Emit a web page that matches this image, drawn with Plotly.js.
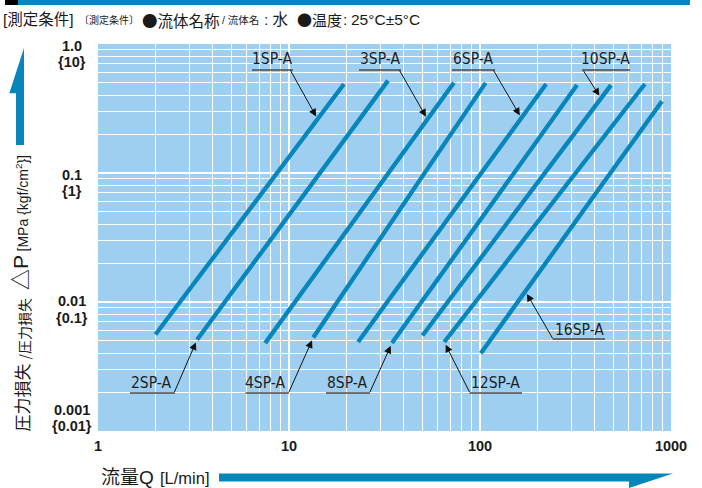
<!DOCTYPE html>
<html><head><meta charset="utf-8">
<script src="https://cdn.plot.ly/plotly-3.0.1.min.js"></script>
<style>html,body{margin:0;padding:0;background:#fff}</style>
</head><body><div id="chart" style="width:702px;height:488px"></div>
<script>
// ---- data ----
const seriesNames = ['1SP-A','2SP-A','3SP-A','4SP-A','6SP-A','8SP-A','10SP-A','12SP-A','16SP-A'];
const flowMin = [2.0, 3.3, 7.5, 13.4, 23, 34.6, 50, 65, 101];      // L/min
const flowMax = [19.4, 33, 73, 107, 222, 322, 485, 730, 897];      // L/min
const dpAtMin = [0.0056, 0.0051, 0.0048, 0.0053, 0.0049, 0.0048, 0.0055, 0.0049, 0.0040]; // MPa
const dpAtMax = [0.49, 0.52, 0.50, 0.50, 0.49, 0.48, 0.48, 0.49, 0.36]; // MPa
const xTickVals = [1, 10, 100, 1000];
const xTickText = ['1', '10', '100', '1000'];
const yTickVals = [1, 0.1, 0.01, 0.001];
const yTickMain = ['1.0', '0.1', '0.01', '0.001'];
const yTickSub = ['{10}', '{1}', '{0.1}', '{0.01}'];

// ---- layout helpers ----
const L = 98, T = 44, W = 573, H = 387;
const px = x => (x - L) / W;
const py = y => (T + H - y) / H;
const lx = x => (x - L) / W * 3;
const ly = y => -3 + (T + H - y) / H * 3;
const BLUE = '#0786bb';
const COND = "'DejaVu Sans Condensed', 'Liberation Sans', sans-serif";
const SANS = "'Liberation Sans', Arial, sans-serif";
const CJK = "'Liberation Sans', 'Noto Sans CJK JP', sans-serif";
const JP = "'Noto Sans CJK JP', sans-serif";

const minorVals = [];
[1, 10, 100].forEach(d => { for (let k = 2; k <= 9; k++) minorVals.push(k * d); });
const minorValsY = [];
[0.001, 0.01, 0.1].forEach(d => { for (let k = 2; k <= 9; k++) minorValsY.push(k * d); });

const traces = seriesNames.map((n, i) => ({
  type: 'scatter', mode: 'lines', name: n,
  x: [flowMin[i], flowMax[i]], y: [dpAtMin[i], dpAtMax[i]],
  line: {color: BLUE, width: 4.3}, hoverinfo: 'skip', showlegend: false
}));

// label callouts: series index, position along line, tail px, underline, text centre
const callouts = [
  {i: 0, t: 0.86, tail: [290, 69.5], ul: [252, 293, 70], tc: [271.5, 59]},
  {i: 2, t: 0.86, tail: [399, 69.5], ul: [359, 401, 70], tc: [380, 59]},
  {i: 4, t: 0.868, tail: [493, 69.5], ul: [452, 495, 70], tc: [473, 59]},
  {i: 6, t: 0.947, tail: [583, 70], ul: [582, 630, 70], tc: [605.5, 59]},
  {i: 1, t: 0, tail: [174, 393], ul: [130, 175, 393], tc: [150.7, 383]},
  {i: 3, t: 0, tail: [288.5, 393], ul: [245.5, 289, 393], tc: [265.3, 383]},
  {i: 5, t: 0, tail: [369.5, 393], ul: [326, 370, 393], tc: [346.7, 383]},
  {i: 7, t: 0, tail: [470, 393], ul: [469.5, 522, 393], tc: [495.5, 383]},
  {i: 8, t: 0.246, tail: [553, 339], ul: [552.5, 605, 339], tc: [579, 330]}
];

const annotations = [];
const shapes = [];

callouts.forEach(c => {
  const a0 = Math.log10(flowMin[c.i]), a1 = Math.log10(flowMax[c.i]);
  const b0 = Math.log10(dpAtMin[c.i]), b1 = Math.log10(dpAtMax[c.i]);
  annotations.push({
    xref: 'x', yref: 'y', x: a0 + c.t * (a1 - a0), y: b0 + c.t * (b1 - b0),
    axref: 'x', ayref: 'y', ax: lx(c.tail[0]), ay: ly(c.tail[1]),
    text: ' ', font: {size: 1}, borderpad: 0,
    showarrow: true, arrowhead: 2, arrowsize: 1.5, arrowwidth: 1, arrowcolor: '#111', standoff: 3
  });
  annotations.push({
    xref: 'paper', yref: 'paper', x: px(c.tc[0]), y: py(c.tc[1]),
    xanchor: 'center', yanchor: 'middle', showarrow: false,
    text: seriesNames[c.i], font: {family: COND, size: 15.5, color: '#1e1e1e'}
  });
  shapes.push({type: 'line', xref: 'paper', yref: 'paper',
    x0: px(c.ul[0]), x1: px(c.ul[1]), y0: py(c.ul[2]), y1: py(c.ul[2]),
    line: {color: '#4a4a4a', width: 1.5}});
});

// y tick labels (two centred lines)
const yOff = [[46, 62], [175, 190.7], [301, 318], [410, 425.7]];
const yTickPx = [44, 173, 302, 431];
yTickVals.forEach((v, k) => {
  annotations.push({xref: 'paper', yref: 'y', x: px(72), y: Math.log10(v), yshift: yTickPx[k] - yOff[k][0],
    xanchor: 'center', yanchor: 'middle', showarrow: false,
    text: '<b>' + yTickMain[k] + '</b>', font: {family: SANS, size: 14.5, color: '#1a1a1a'}});
  annotations.push({xref: 'paper', yref: 'y', x: px(72), y: Math.log10(v), yshift: yTickPx[k] - yOff[k][1],
    xanchor: 'center', yanchor: 'middle', showarrow: false,
    text: '<b>' + yTickSub[k] + '</b>', font: {family: SANS, size: 14.5, color: '#1a1a1a'}});
});

// header texts
const hdr = (x, txt, size, fam) => annotations.push({xref: 'paper', yref: 'paper', x: px(x), y: py(20),
  xanchor: 'left', yanchor: 'middle', showarrow: false, text: txt,
  font: {family: fam || CJK, size: size, color: '#1a1a1a'}});
hdr(1, '[測定条件]', 15.5);
hdr(77, '〔測定条件〕', 10, JP);
hdr(140, '●流体名称', 15.5, JP);
hdr(220, '/ 流体名', 10.5);
hdr(262, ': 水', 15.5);
hdr(295, '●温度', 15, JP);
hdr(341, ':', 15.5);
hdr(349, '25°C±5°C', 15.5);

// y axis title pieces (rotated)
const yt = (cx, cy, txt, fam, size) => annotations.push({xref: 'paper', yref: 'paper', x: px(cx), y: py(cy),
  xanchor: 'center', yanchor: 'middle', showarrow: false, textangle: -90, text: txt,
  font: {family: fam, size: size, color: '#1a1a1a'}});
yt(21, 397.5, '圧力損失', JP, 17);
yt(23.5, 329, '/圧力損失', JP, 14);
yt(20.5, 272.5, '△P', "'Liberation Sans', 'Noto Sans CJK JP'", 21);
yt(22, 203.5, '[MPa {kgf/cm<sup>2</sup>}]', SANS, 14);

// x axis title pieces
annotations.push({xref: 'paper', yref: 'paper', x: px(99), y: py(477), xanchor: 'left', yanchor: 'middle',
  showarrow: false, text: '流量Q', font: {family: CJK, size: 19, color: '#1a1a1a'}});
annotations.push({xref: 'paper', yref: 'paper', x: px(158), y: py(478), xanchor: 'left', yanchor: 'middle',
  showarrow: false, text: '[L/min]', font: {family: SANS, size: 16.5, color: '#1a1a1a'}});

// decorative shapes
const path = pts => 'M ' + pts.map(p => px(p[0]) + ',' + py(p[1])).join(' L ') + ' Z';
shapes.push({type: 'path', xref: 'paper', yref: 'paper', path: path([[5,0],[690,0],[690,5],[5,5]]), fillcolor: BLUE, line: {width: 0}});
shapes.push({type: 'path', xref: 'paper', yref: 'paper', path: path([[5,0],[18,0],[18,5],[5,5]]), fillcolor: '#000', line: {width: 0}});
shapes.push({type: 'path', xref: 'paper', yref: 'paper', path: path([[16,145],[24,145],[24,48],[9.3,93.3],[16,93.3]]), fillcolor: BLUE, line: {width: 0}});
shapes.push({type: 'path', xref: 'paper', yref: 'paper', path: path([[219,473.5],[673,473.5],[629,488],[629,481.5],[219,481.5]]), fillcolor: BLUE, line: {width: 0}});

const layout = {
  width: 702, height: 488,
  margin: {l: L, r: 702 - L - W, t: T, b: 488 - T - H, pad: 0},
  paper_bgcolor: '#ffffff', plot_bgcolor: '#9ecff1',
  showlegend: false,
  xaxis: {type: 'log', range: [0, 3], tickmode: 'array', tickvals: xTickVals, ticktext: xTickText.map(s => '<b>' + s + '</b>'),
    tickfont: {family: SANS, size: 14.5, color: '#1a1a1a'}, ticks: '', showline: false, zeroline: false,
    ticklabelstandoff: 4,
    showgrid: true, gridcolor: '#ffffff', gridwidth: 1.3,
    minor: {tickmode: 'array', tickvals: minorVals, showgrid: true, gridcolor: '#ffffff', gridwidth: 1, ticks: ''},
    fixedrange: true},
  yaxis: {type: 'log', range: [-3, 0], tickmode: 'array', tickvals: yTickVals, showticklabels: false,
    ticks: '', showline: false, zeroline: false, showgrid: true, gridcolor: '#ffffff', gridwidth: 1.3,
    minor: {tickmode: 'array', tickvals: minorValsY, showgrid: true, gridcolor: '#ffffff', gridwidth: 1, ticks: ''},
    fixedrange: true},
  annotations: annotations,
  shapes: shapes
};
Plotly.newPlot('chart', traces, layout, {displayModeBar: false, staticPlot: true});
</script></body></html>
